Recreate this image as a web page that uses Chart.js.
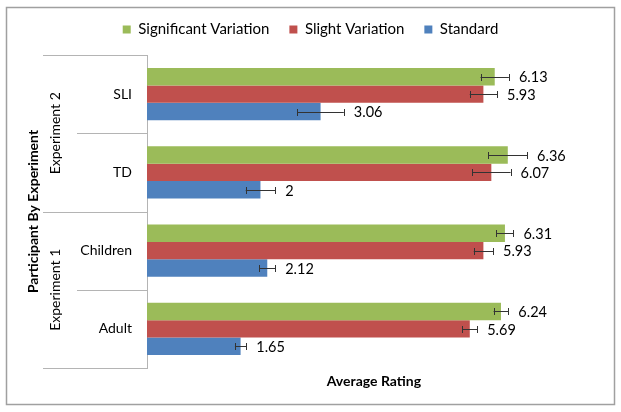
<!DOCTYPE html>
<html>
<head>
<meta charset="utf-8">
<script src="https://cdn.jsdelivr.net/npm/chart.js@4"></script>
<style>
  html, body { margin: 0; padding: 0; background: #fff; }
  #wrap { width: 621px; height: 412px; }
</style>
</head>
<body>
<div id="wrap"><canvas id="ratingChart" width="621" height="412"></canvas></div>
<script>
// categories, top to bottom
var categories = ['SLI', 'TD', 'Children', 'Adult'];
var experiments = ['Experiment 2', 'Experiment 2', 'Experiment 1', 'Experiment 1'];

var significantVariation = [6.13, 6.36, 6.31, 6.24];
var slightVariation = [5.93, 6.07, 5.93, 5.69];
var standard = [3.06, 2, 2.12, 1.65];

// error bar half widths
var significantErr = [0.25, 0.34, 0.15, 0.13];
var slightErr = [0.24, 0.34, 0.17, 0.13];
var standardErr = [0.41, 0.26, 0.14, 0.10];

var FONT = 'Lato, "Open Sans", sans-serif';

var errorBarsPlugin = {
    id: 'errorBars',
    afterDatasetsDraw: function (chart) {
        var ctx = chart.ctx;
        var xs = chart.scales.x;
        ctx.save();
        chart.data.datasets.forEach(function (ds, i) {
            var meta = chart.getDatasetMeta(i);
            meta.data.forEach(function (bar, j) {
                var v = ds.data[j];
                var e = ds.errors[j];
                var x1 = xs.getPixelForValue(v - e);
                var x2 = xs.getPixelForValue(v + e);
                var y = Math.round(bar.y) + 0.5;
                var cap = 3.5;
                // draw error bar
                ctx.strokeStyle = '#333';
                ctx.lineWidth = 1;
                ctx.beginPath();
                ctx.moveTo(x1, y); ctx.lineTo(x2, y);
                ctx.moveTo(Math.round(x1) + 0.5, y - cap); ctx.lineTo(Math.round(x1) + 0.5, y + cap);
                ctx.moveTo(Math.round(x2) + 0.5, y - cap); ctx.lineTo(Math.round(x2) + 0.5, y + cap);
                ctx.stroke();
                // value label
                ctx.fillStyle = '#000';
                ctx.font = '14.5px ' + FONT;
                ctx.textAlign = 'left';
                ctx.textBaseline = 'middle';
                ctx.fillText(String(v), x2 + 10, bar.y + 1);
            });
        });
        ctx.restore();
    }
};

var frameLabelsPlugin = {
    id: 'frameLabels',
    afterDraw: function (chart) {
        var ctx = chart.ctx;
        var ys = chart.scales.y;
        var xs = chart.scales.x;
        var area = chart.chartArea;
        ctx.save();
        // outer border
        ctx.strokeStyle = '#a0a0a0';
        ctx.lineWidth = 1.5;
        ctx.strokeRect(6.5, 7.5, 608, 397);

        ctx.strokeStyle = '#b4b4b4';
        ctx.lineWidth = 1;
        var n = categories.length;
        var half = (ys.getPixelForValue(1) - ys.getPixelForValue(0)) / 2;
        for (var i = 0; i <= n; i++) {
            var yb = (i < n ? ys.getPixelForValue(i) - half : ys.getPixelForValue(n - 1) + half);
            yb = Math.round(yb) + 0.5;
            var outer = (i === 0 || i === n || experiments[i] !== experiments[i - 1]);
            ctx.beginPath();
            ctx.moveTo(outer ? 43 : 77, yb);
            ctx.lineTo(area.left, yb);
            ctx.stroke();
        }

        // category labels
        ctx.fillStyle = '#000';
        ctx.font = '14px ' + FONT;
        ctx.textAlign = 'right';
        ctx.textBaseline = 'middle';
        categories.forEach(function (c, i) {
            ctx.fillText(c, 132, ys.getPixelForValue(i));
        });

        // experiment group labels
        var start = 0;
        for (var k = 1; k <= n; k++) {
            if (k === n || experiments[k] !== experiments[start]) {
                var yc = (ys.getPixelForValue(start) + ys.getPixelForValue(k - 1)) / 2;
                ctx.save();
                ctx.translate(55, yc);
                ctx.rotate(-Math.PI / 2);
                ctx.textAlign = 'center';
                ctx.fillText(experiments[start], 0, 0);
                ctx.restore();
                start = k;
            }
        }

        // axis titles
        ctx.font = 'bold 14px ' + FONT;
        ctx.save();
        ctx.translate(33, (area.top + area.bottom) / 2);
        ctx.rotate(-Math.PI / 2);
        ctx.textAlign = 'center';
        ctx.fillText('Participant By Experiment', 0, 0);
        ctx.restore();
        ctx.textAlign = 'center';
        ctx.fillText('Average Rating', xs.getPixelForValue(4), 381);
        ctx.restore();
    }
};

var ctx = document.getElementById('ratingChart').getContext('2d');
var chart = new Chart(ctx, {
    type: 'bar',
    data: {
        labels: categories,
        datasets: [{
            label: 'Significant Variation',
            backgroundColor: '#9bbb59',
            data: significantVariation,
            errors: significantErr
        },
        {
            label: 'Slight Variation',
            backgroundColor: '#c0504d',
            data: slightVariation,
            errors: slightErr
        },
        {
            label: 'Standard',
            backgroundColor: '#4f81bd',
            data: standard,
            errors: standardErr
        }]
    },
    options: {
        indexAxis: 'y',
        responsive: false,
        animation: false,
        categoryPercentage: 0.67,
        barPercentage: 1,
        layout: { padding: { left: 6, right: 6, top: 2, bottom: 44 } },
        scales: {
            x: {
                position: 'top',
                min: 0,
                max: 8.25,
                ticks: { display: false },
                grid: { display: false, drawTicks: false },
                border: { display: false },
                afterFit: function (scale) { scale.height = 8; }
            },
            y: {
                ticks: { display: false },
                grid: { display: false, drawTicks: false },
                border: { display: true, color: '#b4b4b4' },
                afterFit: function (scale) { scale.width = 141; }
            }
        },
        plugins: {
            tooltip: { enabled: false },
            legend: {
                position: 'top',
                labels: {
                    boxWidth: 8,
                    boxHeight: 8,
                    padding: 20,
                    color: '#000',
                    font: { family: FONT, size: 15 }
                }
            }
        }
    },
    plugins: [errorBarsPlugin, frameLabelsPlugin]
});
</script>
</body>
</html>
